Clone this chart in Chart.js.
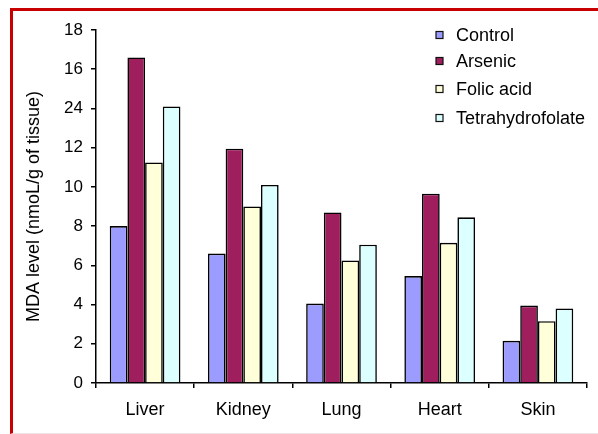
<!DOCTYPE html>
<html>
<head>
<meta charset="utf-8">
<script src="https://cdn.jsdelivr.net/npm/chart.js"></script>
<style>
  html, body { margin: 0; padding: 0; background: #fff; }
  #wrap { position: relative; width: 598px; height: 434px; overflow: hidden; }
  #frame { position: absolute; left: 10px; top: 8px; width: 600px; height: 422px;
           border-top: 3px solid #c80000; border-left: 3px solid #c80000; border-bottom: 1px solid #f0e2e2; }
  canvas { position: absolute; left: 0; top: 0; }
</style>
</head>
<body>
<div id="wrap">
  <div id="frame"></div>
  <canvas id="chart" width="598" height="434"></canvas>
</div>
<script>
// categories + series
const organs = ['Liver', 'Kidney', 'Lung', 'Heart', 'Skin'];
const control = [8.0, 6.6, 4.05, 5.45, 2.15];
const arsenic = [16.6, 11.95, 8.7, 9.65, 3.95];
const folicAcid = [11.25, 9.0, 6.25, 7.15, 3.15];
const tetrahydrofolate = [14.1, 10.1, 7.05, 8.45, 3.8];
// y tick labels as printed (note the "24" where 14 should be)
const yTickLabels = ['0', '2', '4', '6', '8', '10', '12', '24', '16', '18'];

const FONT = 'Arial, "Liberation Sans", sans-serif';

const series = [
  { label: 'Control', data: control, color: '#9c9cff' },
  { label: 'Arsenic', data: arsenic, color: '#9e1e5e' },
  { label: 'Folic acid', data: folicAcid, color: '#ffffd9' },
  { label: 'Tetrahydrofolate', data: tetrahydrofolate, color: '#dcffff' }
];

// legend sits inside the plot, top right
const legendRows = [35, 61, 89, 118];
const boxLegend = {
  id: 'boxLegend',
  afterDraw(chart) {
    const ctx = chart.ctx;
    ctx.save();
    ctx.font = '18px ' + FONT;
    ctx.textBaseline = 'middle';
    chart.data.datasets.forEach((ds, i) => {
      const y = legendRows[i];
      ctx.fillStyle = ds.backgroundColor;
      ctx.fillRect(436, y - 3.5, 7, 7);
      ctx.strokeStyle = '#111';
      ctx.lineWidth = 1.2;
      ctx.strokeRect(436, y - 3.5, 7, 7);
      ctx.fillStyle = '#000';
      ctx.fillText(ds.label, 456, y + 1);
    });
    ctx.restore();
  }
};

new Chart(document.getElementById('chart'), {
  type: 'bar',
  data: {
    labels: organs,
    datasets: series.map(s => ({
      label: s.label,
      data: s.data,
      backgroundColor: s.color,
      borderColor: '#000',
      borderWidth: 1.6
    }))
  },
  options: {
    responsive: false,
    animation: false,
    layout: { padding: { top: 30, right: 11, bottom: 0, left: 0 } },
    plugins: { legend: { display: false }, tooltip: { enabled: false } },
    datasets: { bar: { categoryPercentage: 0.72, barPercentage: 1.0 } },
    scales: {
      x: {
        grid: { offset: true, drawOnChartArea: false, drawTicks: true, tickLength: 5, color: '#000', lineWidth: 1.5 },
        border: { display: true, color: '#000', width: 1.5 },
        ticks: { color: '#000', padding: 11, font: { family: FONT, size: 18 } },
        afterFit: s => { s.height = 51; }
      },
      y: {
        min: 0, max: 18,
        grid: { drawOnChartArea: false, drawTicks: true, tickLength: 5, color: '#000', lineWidth: 1.5 },
        border: { display: true, color: '#000', width: 1.5 },
        ticks: {
          stepSize: 2, color: '#000', padding: 8,
          font: { family: FONT, size: 17 },
          callback: (v, i) => yTickLabels[i]
        },
        title: {
          display: true,
          text: 'MDA level (nmoL/g of tissue)',
          color: '#000',
          font: { family: FONT, size: 18 },
          padding: { top: 23, bottom: 0 }
        },
        afterFit: s => { s.width = 96; }
      }
    }
  },
  plugins: [boxLegend]
});
</script>
</body>
</html>
